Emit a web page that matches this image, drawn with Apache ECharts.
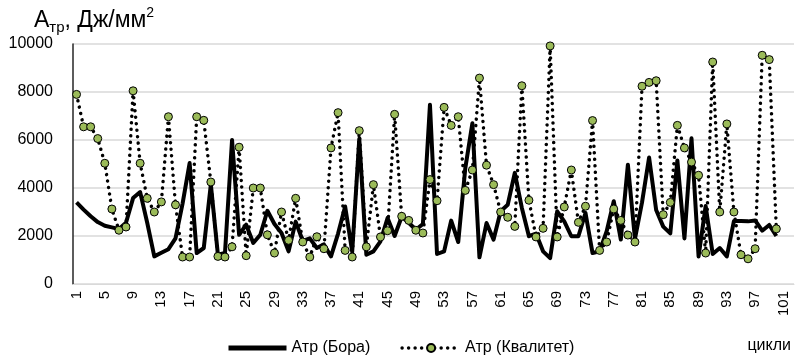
<!DOCTYPE html>
<html>
<head>
<meta charset="utf-8">
<script src="https://cdn.jsdelivr.net/npm/echarts@6/dist/echarts.min.js"></script>
<style>
  html, body { margin: 0; padding: 0; background: #fff; }
  #chart { width: 798px; height: 359px; }
</style>
</head>
<body>
<div id="chart"></div>
<script>
// Category labels of the horizontal axis (cycles); the axis holds 102 slots, data fills 100
const categories = ['1','2','3','4','5','6','7','8','9','10','11','12','13','14','15','16','17','18','19','20',
  '21','22','23','24','25','26','27','28','29','30','31','32','33','34','35','36','37','38','39','40',
  '41','42','43','44','45','46','47','48','49','50','51','52','53','54','55','56','57','58','59','60',
  '61','62','63','64','65','66','67','68','69','70','71','72','73','74','75','76','77','78','79','80',
  '81','82','83','84','85','86','87','88','89','90','91','92','93','94','95','96','97','98','99','100',
  '101','102'];

// Атр (Бора) – solid black line
const boraValues = [3400, 3100, 2820, 2580, 2430, 2360, 2290, 2550, 3580, 3830,
  2550, 1150, 1300, 1450, 1900, 3350, 5040, 1290, 1500, 4150,
  1220, 1290, 6000, 2050, 2470, 1710, 2050, 3050, 2500, 2125,
  1360, 2600, 1800, 1900, 1500, 1650, 1150, 2100, 3230, 1350,
  6050, 1220, 1360, 1780, 2750, 2000, 2800, 2550, 2260, 2500,
  7470, 1250, 1360, 2640, 1750, 4830, 6700, 1110, 2540, 1850,
  3030, 3300, 4630, 3170, 1990, 2100, 1360, 1080, 3030, 2610,
  1990, 1990, 2960, 1290, 1360, 2200, 3450, 1850, 4970, 1880,
  3400, 5270, 3080, 2390, 2110, 5150, 1900, 6070, 1150, 3250,
  1250, 1500, 1150, 2620, 2620, 2610, 2650, 2220, 2460, 2000];

// Атр (Квалитет) – dotted line with green markers
const kvalitetValues = [7900, 6550, 6550, 6060, 5030, 3125, 2240, 2375, 8050, 5030,
  3570, 3000, 3420, 6970, 3300, 1125, 1125, 6970, 6820, 4250,
  1150, 1125, 1550, 5700, 1180, 4000, 4000, 2050, 1290, 3000,
  1820, 3570, 1750, 1125, 1970, 1470, 5670, 7140, 1400, 1125,
  6390, 1550, 4140, 1960, 2220, 7070, 2820, 2650, 2240, 2125,
  4350, 3470, 7360, 6610, 6970, 3900, 4750, 8580, 4950, 4140,
  3000, 2780, 2400, 8260, 3490, 1960, 2320, 9920, 1960, 3210,
  4750, 2570, 3240, 6810, 1400, 1750, 3125, 2650, 2040, 1750,
  8240, 8400, 8470, 2890, 3400, 6610, 5670, 5080, 4530, 1290,
  9250, 3000, 6670, 3000, 1220, 1050, 1470, 9530, 9350, 2300];

const seriesNames = ['Атр (Бора)', 'Атр (Квалитет)'];
const yTicks = { min: 0, max: 10000, interval: 2000 };

const FONT = "'Liberation Sans', Arial, sans-serif";
const chart = echarts.init(document.getElementById('chart'), null, { renderer: 'canvas' });

chart.setOption({
  animation: false,
  backgroundColor: '#ffffff',
  textStyle: { fontFamily: FONT },
  title: [
    {
      text: '{a|А}{s|тр}{a|, Дж/мм}{p|2}',
      left: 34, top: 6, padding: 0,
      textStyle: {
        fontWeight: 'normal',
        rich: {
          a: { fontSize: 23, fontWeight: 'normal', fontFamily: FONT, color: '#000', lineHeight: 29 },
          s: { fontSize: 15, fontWeight: 'normal', fontFamily: FONT, color: '#000', lineHeight: 15, verticalAlign: 'bottom' },
          p: { fontSize: 14, fontWeight: 'normal', fontFamily: FONT, color: '#000', lineHeight: 15, verticalAlign: 'top' }
        }
      }
    },
    {
      text: 'цикли',
      right: 7, top: 338, padding: 0,
      textStyle: { fontSize: 16, fontWeight: 'normal', fontFamily: FONT, color: '#000' }
    }
  ],
  legend: {
    data: [
      { name: seriesNames[0], itemStyle: { opacity: 0 }, lineStyle: { width: 5, color: '#000' } },
      { name: seriesNames[1], lineStyle: { width: 3.5, color: '#000', type: [0.01, 6.5], cap: 'round' } }
    ],
    left: 226, top: 340, padding: 0,
    itemWidth: 58, itemHeight: 10, itemGap: 30,
    textStyle: { fontSize: 16, fontFamily: FONT, color: '#000' }
  },
  grid: { left: 73, right: 4, top: 44, bottom: 75, containLabel: false },
  xAxis: {
    type: 'category',
    data: categories,
    boundaryGap: true,
    axisLine: { show: true, lineStyle: { color: '#d9d9d9', width: 1 } },
    axisTick: { show: false },
    axisLabel: {
      interval: 3, rotate: 90, margin: 7,
      fontSize: 15, fontFamily: FONT, color: '#000'
    },
    splitLine: { show: false }
  },
  yAxis: {
    type: 'value',
    min: yTicks.min, max: yTicks.max, interval: yTicks.interval,
    axisLine: { show: true, lineStyle: { color: '#262626', width: 1.5 } },
    axisTick: { show: false },
    axisLabel: { margin: 20, fontSize: 16, fontFamily: FONT, color: '#000', formatter: function (v) { return String(v); } },
    splitLine: { show: true, lineStyle: { color: '#d9d9d9', width: 1.5 } }
  },
  series: [
    {
      name: seriesNames[0],
      type: 'line',
      data: boraValues,
      symbol: 'none',
      lineStyle: { color: '#000', width: 4, join: 'round' },
      itemStyle: { color: '#000' },
      z: 2
    },
    {
      name: seriesNames[1],
      type: 'line',
      data: kvalitetValues,
      symbol: 'circle',
      symbolSize: 8,
      showSymbol: true,
      showAllSymbol: true,
      lineStyle: { color: '#000', width: 3.5, type: [0.01, 6.5], cap: 'round' },
      itemStyle: { color: '#9BBB59', borderColor: '#000', borderWidth: 1 },
      z: 3
    }
  ]
});
</script>
</body>
</html>
